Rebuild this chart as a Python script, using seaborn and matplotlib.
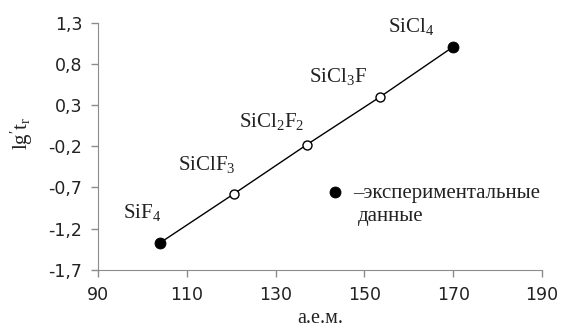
import numpy as np
import pandas as pd
import matplotlib
matplotlib.use("Agg")
import matplotlib.pyplot as plt
import seaborn as sns

# data
compounds = ["SiF$_4$", "SiClF$_3$", "SiCl$_2$F$_2$", "SiCl$_3$F", "SiCl$_4$"]
mass = [104, 120.5, 137, 153.5, 170]
lg_t = [-1.37, -0.78, -0.18, 0.40, 1.01]
experimental = [True, False, False, False, True]

x_ticks = [90, 110, 130, 150, 170, 190]
y_ticks = [-1.7, -1.2, -0.7, -0.2, 0.3, 0.8, 1.3]

AXIS_COLOR = "#8c8c8c"
TEXT_COLOR = "#222222"
SERIF = "Liberation Serif"

sns.set_style("ticks")
plt.rcParams["font.family"] = ["DejaVu Sans"]
plt.rcParams["mathtext.default"] = "regular"

df = pd.DataFrame({"name": compounds, "mass": mass, "lg_t": lg_t,
                   "exp": experimental})

fig, ax = plt.subplots(figsize=(5.65, 3.33), dpi=100)
fig.subplots_adjust(left=0.174, right=0.959, top=0.931, bottom=0.19)

sns.lineplot(data=df, x="mass", y="lg_t", color="black", linewidth=1.0, ax=ax)
sns.scatterplot(data=df[~df["exp"]], x="mass", y="lg_t", s=42,
                facecolor="white", edgecolor="black", linewidth=1.0,
                ax=ax, zorder=3)
sns.scatterplot(data=df[df["exp"]], x="mass", y="lg_t", s=62,
                color="black", edgecolor="black", ax=ax, zorder=3,
                label="–экспериментальные")

# labels next to the points (offsets in points)
offsets = [(-13, 22), (-19, 21.5), (-25, 16.5), (-30, 14.5), (-30, 14.5)]
for (_, row), off in zip(df.iterrows(), offsets):
    ax.annotate(row["name"], (row["mass"], row["lg_t"]), xytext=off,
                textcoords="offset points", ha="center", va="center",
                fontsize=15, family=SERIF, color=TEXT_COLOR)

ax.set_xlim(90, 190)
ax.set_ylim(-1.7, 1.3)
ax.set_xticks(x_ticks)
ax.set_xticklabels([str(v) for v in x_ticks])
ax.set_yticks(y_ticks)
ax.set_yticklabels([f"{v:.1f}".replace(".", ",") for v in y_ticks])
ax.tick_params(labelsize=12.5, colors=AXIS_COLOR, labelcolor=TEXT_COLOR,
               length=5, width=1, pad=6.5)
for s in ["left", "bottom"]:
    ax.spines[s].set_color(AXIS_COLOR)
sns.despine(ax=ax)

ax.set_xlabel("а.е.м.", family=SERIF, fontsize=14.5, color=TEXT_COLOR,
              labelpad=3.5)
ax.set_ylabel("lg$'$t$_r$", family=SERIF, fontsize=15, color=TEXT_COLOR)
ax.yaxis.set_label_coords(-0.142, 0.55)

leg = ax.legend(loc="center left", bbox_to_anchor=(0.484, 0.312),
                frameon=False, handletextpad=0.24, handlelength=1.3,
                borderaxespad=0, prop={"family": SERIF, "size": 15})
for t in leg.get_texts():
    t.set_color(TEXT_COLOR)
ax.text(0.585, 0.217, "данные", transform=ax.transAxes, family=SERIF,
        fontsize=15, color=TEXT_COLOR, ha="left", va="center")

fig.savefig("out.png", dpi=100)
